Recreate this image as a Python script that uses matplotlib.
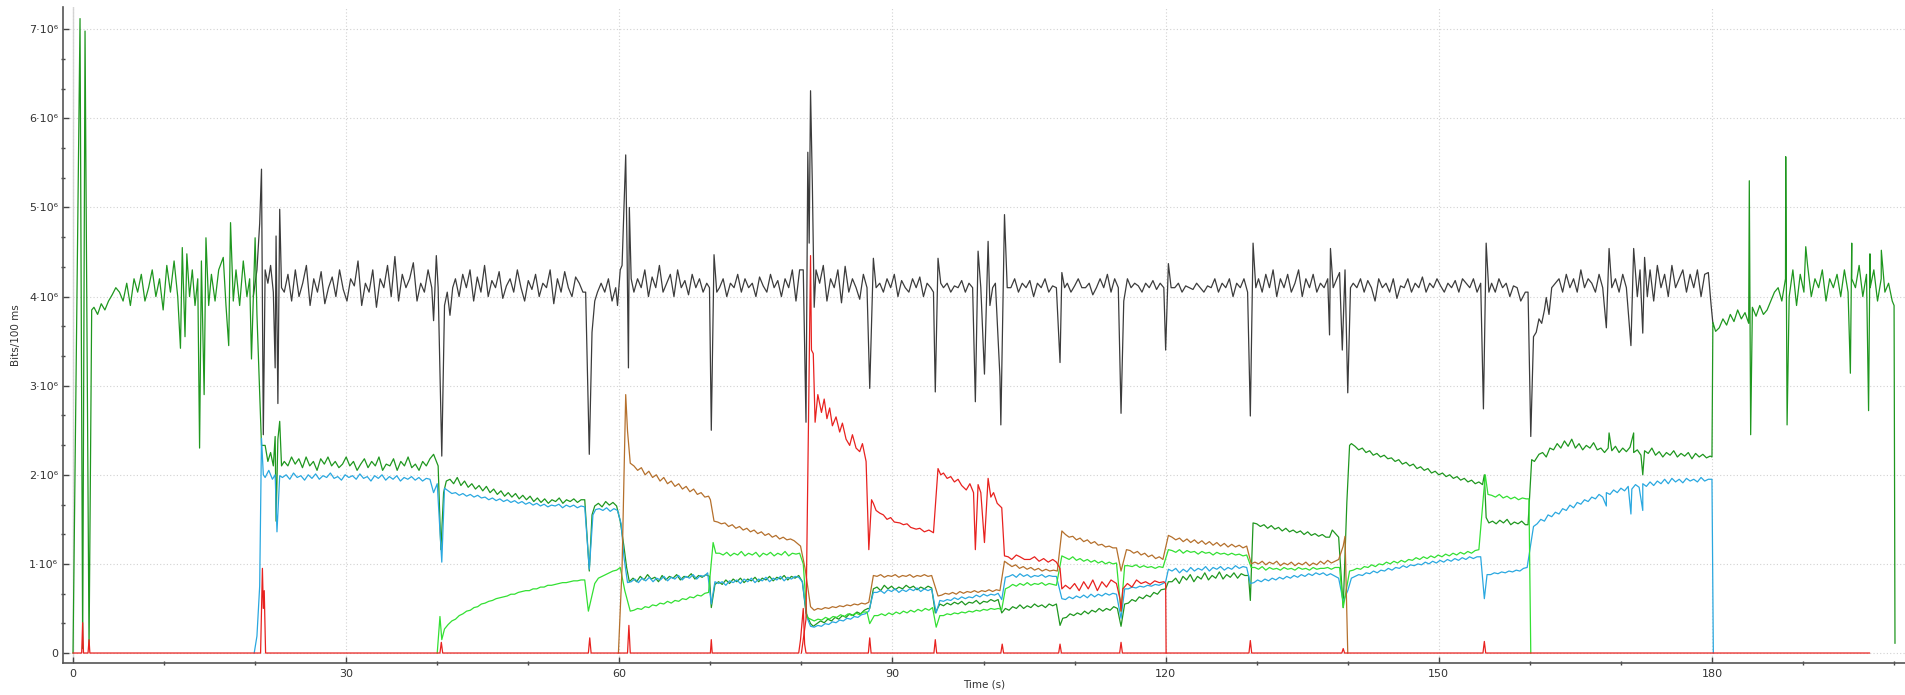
import numpy as np
import matplotlib
matplotlib.use("Agg")
import matplotlib.pyplot as plt
from matplotlib.ticker import MultipleLocator, FuncFormatter

# ---------------- data (values in units of 10^6 bits / 100 ms) ----------------
# Each series: explicit event points (t, v) + noisy stretches (t_start, t_end, [values])

total_events = [
    (19.8, 4.0), (20.2, 4.3), (20.5, 4.82), (20.7, 5.43), (20.9, 2.45), (21.1, 4.3), (21.4, 4.15),
    (21.7, 4.35), (22.0, 4.05), (22.2, 3.2), (22.3, 4.68), (22.5, 2.8), (22.7, 4.98), (22.9, 4.1),
    (39.6, 3.73), (39.9, 4.46), (40.1, 4.1), (40.5, 2.21), (40.8, 3.9), (41.1, 4.05), (41.4, 3.79), (41.7, 4.1),
    (56.3, 4.05), (56.7, 2.23), (57.0, 3.6), (57.3, 3.95), (57.6, 4.05),
    (59.8, 3.9), (60.1, 4.3), (60.3, 4.35), (60.5, 4.96), (60.7, 5.59), (60.85, 4.5), (61.0, 3.2),
    (61.1, 5.0), (61.3, 4.2), (61.6, 4.05),
    (69.9, 4.1), (70.1, 2.5), (70.4, 4.47), (70.7, 4.05),
    (80.2, 4.3), (80.5, 2.59), (80.7, 5.62), (80.85, 4.6), (81.0, 6.31), (81.2, 5.25), (81.4, 3.88), (81.6, 4.3),
    (87.5, 2.97), (87.9, 4.43), (88.2, 4.1),
    (94.5, 4.05), (94.7, 2.93), (95.0, 4.43), (95.3, 4.15),
    (99.1, 2.82), (99.4, 4.51), (99.7, 4.1), (100.1, 3.13), (100.5, 4.62), (100.7, 3.9), (101.0, 4.1),
    (101.3, 4.15), (101.8, 3.1), (101.9, 2.56), (102.3, 4.92), (102.6, 4.1),
    (108.4, 3.26), (108.6, 4.27), (108.9, 4.1),
    (115.1, 2.69), (115.4, 3.95), (115.8, 4.2),
    (120.0, 3.40), (120.3, 4.37), (120.6, 4.1),
    (129.3, 2.66), (129.6, 4.6), (129.9, 4.1),
    (138.0, 3.57), (138.1, 4.54), (138.4, 4.1), (138.8, 4.2), (139.1, 4.27), (139.4, 3.4), (139.7, 4.3),
    (140.0, 2.92), (140.3, 4.1),
    (154.9, 2.74), (155.2, 4.6), (155.5, 4.05),
    (159.0, 3.95), (159.5, 4.05), (159.8, 4.05), (160.1, 2.43), (160.4, 3.55), (160.7, 3.6), (161.0, 3.75),
    (161.3, 3.7), (161.6, 3.85), (161.8, 3.99), (162.1, 3.8), (162.4, 4.1),
    (168.4, 3.65), (168.7, 4.54), (169.0, 4.1),
    (171.1, 3.45), (171.4, 4.54), (171.8, 4.0), (172.1, 4.3), (172.4, 3.59), (172.6, 4.44), (172.9, 4.0),
    (179.9, 3.91), (180.1, 3.7),
]
total_noise = [
    (23.2, 39.4, [4.05, 4.25, 3.95, 4.3, 4.0, 4.15, 4.35, 3.9, 4.2, 4.05, 4.28, 3.92, 4.1, 4.22, 4.0, 4.3, 4.08,
                  3.95, 4.2, 4.12, 4.4, 3.9, 4.15, 4.05, 4.3, 3.88, 4.2, 4.1, 4.35, 4.0, 4.45, 3.95, 4.25, 4.1,
                  4.2, 4.38, 3.95, 4.15, 4.05, 4.3, 4.1]),
    (42.0, 56.0, [4.2, 4.0, 4.25, 4.1, 4.3, 3.95, 4.22, 4.05, 4.35, 4.0, 4.18, 4.1, 4.28, 3.98, 4.12, 4.2, 4.05,
                  4.3, 4.1, 3.95, 4.18, 4.08, 4.25, 4.0, 4.15, 4.1, 4.3, 3.92, 4.2, 4.05, 4.28, 4.1, 4.0, 4.22,
                  4.15, 4.05]),
    (58.0, 59.6, [4.15, 4.05, 4.2, 3.95, 4.1]),
    (62.0, 69.6, [4.2, 4.1, 4.3, 4.0, 4.22, 4.1, 4.35, 4.05, 4.15, 4.25, 4.0, 4.3, 4.1, 4.18, 4.02, 4.25, 4.1,
                  4.2, 4.05, 4.15]),
    (71.0, 79.8, [4.1, 4.2, 4.0, 4.15, 4.1, 4.25, 4.05, 4.2, 4.1, 4.15, 4.0, 4.22, 4.12, 4.05, 4.25, 4.1, 4.18,
                  4.0, 4.2, 4.1, 4.3, 3.95, 4.3]),
    (82.0, 87.2, [4.15, 4.35, 3.95, 4.2, 4.1, 4.3, 3.93, 4.34, 4.05, 4.2, 4.1, 3.97, 4.25, 4.1]),
    (88.6, 94.2, [4.15, 4.05, 4.2, 4.1, 4.25, 4.0, 4.18, 4.1, 4.05, 4.2, 4.1, 4.22, 4.0, 4.15, 4.1]),
    (95.6, 98.8, [4.1, 4.15, 4.05, 4.12, 4.1, 4.18, 4.05, 4.15, 4.1]),
    (103.0, 108.0, [4.1, 4.2, 4.05, 4.15, 4.1, 4.18, 4.0, 4.15, 4.1, 4.2, 4.05, 4.12, 4.1]),
    (109.2, 114.8, [4.15, 4.05, 4.12, 4.2, 4.1, 4.1, 4.15, 4.02, 4.1, 4.2, 4.1, 4.25, 4.05, 4.2, 4.1]),
    (116.2, 119.8, [4.1, 4.15, 4.12, 4.05, 4.15, 4.1, 4.18, 4.08, 4.15, 4.1]),
    (121.0, 129.0, [4.1, 4.15, 4.05, 4.12, 4.1, 4.08, 4.15, 4.1, 4.05, 4.12, 4.1, 4.2, 4.05, 4.15, 4.1, 4.2,
                    4.0, 4.15, 4.1, 4.2, 4.05]),
    (130.2, 137.8, [4.2, 4.05, 4.25, 4.1, 4.3, 4.0, 4.2, 4.1, 4.25, 4.05, 4.15, 4.3, 4.0, 4.2, 4.1, 4.25, 4.05,
                    4.15, 4.1, 4.2]),
    (140.6, 154.6, [4.15, 4.1, 4.2, 4.05, 4.18, 4.1, 3.95, 4.2, 4.1, 4.15, 4.05, 4.2, 3.98, 4.12, 4.1, 4.2, 4.05,
                    4.15, 4.1, 4.22, 4.05, 4.15, 4.1, 4.2, 4.12, 4.05, 4.15, 4.1, 4.18, 4.05, 4.2, 4.15, 4.1,
                    4.2, 4.05, 4.15]),
    (155.8, 158.6, [4.15, 4.05, 4.2, 4.1, 4.15, 4.0, 4.12, 4.1]),
    (162.8, 168.0, [4.15, 4.2, 4.05, 4.25, 4.1, 4.2, 4.05, 4.3, 4.1, 4.2, 4.15, 4.05, 4.25, 4.1]),
    (169.4, 170.6, [4.2, 4.05, 4.25, 4.1]),
    (173.2, 179.6, [4.3, 3.95, 4.35, 4.1, 4.25, 4.0, 4.35, 4.1, 4.2, 4.3, 4.05, 4.25, 4.1, 4.3, 4.0, 4.25, 4.27]),
]

flow1_events = [
    (0.0, 0.0), (0.77, 7.12), (1.06, 0.05), (1.32, 6.98), (1.76, 0.05), (2.05, 3.85),
    (11.8, 3.42), (12.0, 4.55), (12.3, 3.55), (12.5, 4.48), (12.8, 4.0),
    (13.9, 2.3), (14.1, 4.4), (14.4, 2.9), (14.6, 4.66), (14.9, 3.9),
    (16.5, 4.44), (16.8, 3.9), (17.1, 3.45), (17.3, 4.83), (17.6, 3.95),
    (19.4, 4.2), (19.6, 3.3), (20.0, 4.66), (20.2, 3.8), (20.7, 2.33),
    (21.1, 2.33), (21.4, 2.15), (21.7, 2.25), (22.0, 2.1), (22.2, 2.43), (22.3, 1.48), (22.5, 2.4),
    (22.7, 2.6), (22.9, 2.1),
    (40.1, 2.1), (40.4, 1.16), (40.7, 1.8), (41.0, 1.93),
    (56.2, 1.72), (56.7, 0.92), (57.0, 1.55), (57.3, 1.65),
    (60.1, 1.48), (60.5, 1.2), (60.8, 0.96), (61.1, 0.8),
    (70.1, 0.51), (70.5, 0.77),
    (80.1, 0.8), (80.5, 0.45), (81.0, 0.33), (81.3, 0.3),
    (87.5, 0.5), (87.9, 0.72),
    (94.7, 0.45), (95.2, 0.55),
    (102.0, 0.45), (102.4, 0.5),
    (108.4, 0.31), (108.7, 0.39),
    (115.1, 0.3), (115.5, 0.55),
    (120.0, 0.72), (120.3, 0.8),
    (129.1, 0.87), (129.3, 0.59), (129.6, 1.46),
    (138.0, 1.3), (138.3, 1.38), (139.0, 1.3), (139.5, 0.51), (139.9, 1.69), (140.2, 2.33), (140.4, 2.35),
    (154.8, 1.89), (155.0, 2.0), (155.2, 1.52), (155.5, 1.46),
    (159.8, 1.44), (160.2, 2.17), (160.5, 2.15), (161.0, 2.23),
    (168.7, 2.47), (171.4, 2.47), (172.4, 2.0),
    (180.0, 2.2), (180.1, 3.71), (180.4, 3.61),
    (184.1, 5.3), (184.25, 2.45), (188.1, 5.57), (188.25, 2.56), (190.3, 4.56),
    (195.2, 3.14), (195.35, 4.6), (197.2, 2.72), (197.35, 4.48), (198.6, 4.52),
    (200.0, 3.9), (200.1, 0.11),
]
flow1_noise = [
    (2.3, 11.5, [3.88, 3.8, 3.92, 3.85, 3.95, 4.02, 4.1, 4.05, 3.95, 4.15, 3.9, 4.2, 4.05, 4.25, 3.95, 4.1,
                 4.3, 4.0, 4.2, 3.85, 4.35, 4.05, 4.4, 4.0]),
    (13.1, 13.7, [4.3, 3.9, 4.2]),
    (15.2, 16.0, [4.25, 3.95, 4.3]),
    (17.9, 19.1, [4.3, 3.9, 4.4, 4.0]),
    (23.2, 39.6, [2.15, 2.1, 2.2, 2.12, 2.18, 2.08, 2.2, 2.1, 2.15, 2.05, 2.18, 2.12, 2.2, 2.1, 2.15, 2.08,
                  2.12, 2.2, 2.1, 2.15, 2.05, 2.12, 2.18, 2.08, 2.15, 2.1, 2.2, 2.05, 2.12, 2.1, 2.18, 2.05,
                  2.15, 2.1, 2.2, 2.08, 2.12, 2.05, 2.15, 2.1, 2.18, 2.23]),
    (41.4, 55.8, [1.95, 1.9, 1.97, 1.88, 1.93, 1.86, 1.9, 1.84, 1.88, 1.82, 1.87, 1.8, 1.84, 1.78, 1.82, 1.76,
                  1.8, 1.75, 1.79, 1.73, 1.77, 1.72, 1.76, 1.7, 1.74, 1.69, 1.73, 1.68, 1.72, 1.7, 1.74, 1.68,
                  1.72, 1.7, 1.73, 1.69, 1.72]),
    (57.7, 59.7, [1.68, 1.64, 1.7, 1.66, 1.69, 1.65]),
    (61.5, 69.9, [0.84, 0.8, 0.86, 0.82, 0.88, 0.83, 0.85, 0.8, 0.87, 0.82, 0.86, 0.84, 0.88, 0.82, 0.86,
                  0.85, 0.89, 0.83, 0.87, 0.85, 0.88, 0.86]),
    (70.9, 79.7, [0.8, 0.77, 0.82, 0.78, 0.83, 0.8, 0.84, 0.79, 0.83, 0.81, 0.85, 0.8, 0.84, 0.82, 0.86, 0.81,
                  0.85, 0.83, 0.87, 0.82, 0.86, 0.84, 0.87]),
    (81.7, 87.3, [0.33, 0.36, 0.34, 0.38, 0.36, 0.4, 0.38, 0.42, 0.4, 0.44, 0.42, 0.46, 0.44, 0.48, 0.5]),
    (88.3, 94.3, [0.74, 0.7, 0.76, 0.72, 0.75, 0.71, 0.74, 0.72, 0.76, 0.73, 0.75, 0.71, 0.74, 0.72, 0.75, 0.73]),
    (95.6, 101.6, [0.53, 0.56, 0.54, 0.57, 0.55, 0.58, 0.54, 0.57, 0.56, 0.59, 0.55, 0.58, 0.57, 0.6, 0.58, 0.6]),
    (102.8, 108.0, [0.48, 0.52, 0.5, 0.54, 0.5, 0.53, 0.51, 0.55, 0.52, 0.54, 0.51, 0.55, 0.53, 0.55]),
    (109.1, 114.7, [0.4, 0.44, 0.42, 0.45, 0.43, 0.47, 0.44, 0.48, 0.46, 0.5, 0.47, 0.5, 0.48, 0.52, 0.5]),
    (115.9, 119.5, [0.56, 0.6, 0.58, 0.63, 0.61, 0.65, 0.63, 0.68, 0.66, 0.71]),
    (120.7, 128.7, [0.8, 0.84, 0.78, 0.86, 0.82, 0.88, 0.8, 0.86, 0.83, 0.9, 0.82, 0.87, 0.84, 0.91, 0.83,
                    0.88, 0.85, 0.9, 0.84, 0.89, 0.87]),
    (130.0, 137.6, [1.45, 1.42, 1.44, 1.4, 1.43, 1.39, 1.41, 1.37, 1.4, 1.36, 1.38, 1.35, 1.37, 1.33, 1.36,
                    1.32, 1.34, 1.31, 1.33, 1.3]),
    (140.8, 154.4, [2.32, 2.28, 2.3, 2.25, 2.27, 2.22, 2.24, 2.2, 2.22, 2.18, 2.19, 2.15, 2.17, 2.12, 2.14, 2.1,
                    2.12, 2.07, 2.09, 2.05, 2.07, 2.02, 2.04, 2.0, 2.02, 1.98, 2.0, 1.96, 1.98, 1.94, 1.96, 1.92,
                    1.94, 1.9, 1.92]),
    (155.9, 159.5, [1.48, 1.45, 1.49, 1.46, 1.5, 1.44, 1.47, 1.45, 1.48, 1.44]),
    (161.4, 179.8, [2.25, 2.2, 2.3, 2.28, 2.35, 2.3, 2.38, 2.32, 2.4, 2.3, 2.35, 2.28, 2.33, 2.3, 2.36, 2.28,
                    2.3, 2.25, 2.3, 2.27, 2.32, 2.25, 2.3, 2.26, 2.31, 2.25, 2.28, 2.22, 2.27, 2.24, 2.3, 2.22,
                    2.26, 2.2, 2.25, 2.22, 2.27, 2.2, 2.24, 2.21, 2.25, 2.18, 2.24, 2.2, 2.23, 2.19, 2.21]),
    (180.8, 199.8, [3.65, 3.75, 3.68, 3.8, 3.72, 3.85, 3.75, 3.82, 3.7, 3.88, 3.78, 3.9, 3.8, 3.85, 3.95, 4.05,
                    4.1, 3.95, 4.2, 4.0, 4.3, 3.9, 4.25, 4.05, 4.35, 4.0, 4.2, 4.1, 4.3, 3.95, 4.2, 4.1, 4.25,
                    4.0, 4.3, 4.05, 4.2, 4.1, 4.35, 4.0, 4.25, 4.1, 4.3, 3.95, 4.2, 4.05, 4.15, 3.95]),
]

flow2_events = [
    (19.9, 0.0), (20.2, 0.19), (20.5, 0.75), (20.7, 2.41), (20.9, 2.0), (21.1, 1.97), (21.5, 2.05),
    (21.9, 1.95), (22.2, 2.0), (22.4, 1.36), (22.7, 1.99),
    (39.6, 1.8), (40.0, 1.9), (40.5, 1.02), (40.8, 1.85),
    (56.7, 0.94), (57.1, 1.55), (57.4, 1.61),
    (60.2, 1.45), (60.5, 1.08), (60.9, 0.79),
    (70.1, 0.55), (70.5, 0.8),
    (80.1, 0.8), (80.6, 0.4), (81.0, 0.3),
    (87.9, 0.68),
    (94.8, 0.45), (95.2, 0.59),
    (102.0, 0.6), (102.4, 0.85),
    (108.6, 0.61),
    (115.1, 0.39), (115.5, 0.72),
    (120.0, 0.8), (120.3, 0.94),
    (129.3, 0.78),
    (139.0, 0.84), (139.5, 0.58), (140.0, 0.7), (140.4, 0.84),
    (155.0, 0.61), (155.3, 0.88),
    (160.4, 1.42),
    (168.4, 1.65), (171.1, 1.56), (172.4, 1.6),
    (180.0, 1.95), (180.15, 0.0),
]
flow2_noise = [
    (23.0, 39.2, [1.97, 2.0, 1.95, 2.02, 1.97, 1.99, 1.94, 2.0, 1.96, 2.01, 1.95, 1.99, 1.97, 2.02, 1.96, 1.98,
                  1.94, 2.0, 1.97, 1.99, 1.95, 2.01, 1.96, 1.98, 1.93, 1.99, 1.96, 2.0, 1.94, 1.98, 1.95, 1.99,
                  1.93, 1.97, 1.95, 1.98, 1.94, 1.97, 1.93, 1.96, 1.95]),
    (41.2, 56.2, [1.82, 1.79, 1.8, 1.77, 1.79, 1.76, 1.78, 1.75, 1.77, 1.74, 1.75, 1.72, 1.74, 1.71, 1.73, 1.7,
                  1.72, 1.69, 1.71, 1.68, 1.7, 1.67, 1.69, 1.66, 1.68, 1.65, 1.67, 1.64, 1.66, 1.65, 1.67, 1.63,
                  1.66, 1.64, 1.66, 1.63, 1.65, 1.64]),
    (57.8, 59.8, [1.62, 1.6, 1.63, 1.59, 1.62, 1.6]),
    (61.3, 69.7, [0.8, 0.83, 0.79, 0.84, 0.81, 0.85, 0.8, 0.84, 0.82, 0.86, 0.81, 0.85, 0.83, 0.87, 0.82, 0.86,
                  0.84, 0.88, 0.83, 0.87, 0.86, 0.9]),
    (70.9, 79.7, [0.78, 0.8, 0.76, 0.81, 0.79, 0.82, 0.78, 0.83, 0.8, 0.84, 0.79, 0.83, 0.81, 0.85, 0.8, 0.84,
                  0.82, 0.86, 0.81, 0.85, 0.83, 0.86, 0.85]),
    (81.4, 87.4, [0.29, 0.31, 0.3, 0.33, 0.32, 0.35, 0.34, 0.37, 0.36, 0.39, 0.38, 0.41, 0.4, 0.43, 0.44, 0.47]),
    (88.3, 94.3, [0.68, 0.7, 0.67, 0.71, 0.69, 0.72, 0.68, 0.71, 0.69, 0.72, 0.7, 0.73, 0.69, 0.72, 0.7, 0.72]),
    (95.6, 101.6, [0.58, 0.6, 0.59, 0.62, 0.6, 0.63, 0.61, 0.63, 0.62, 0.65, 0.63, 0.66, 0.64, 0.66, 0.65, 0.67]),
    (102.8, 108.0, [0.86, 0.88, 0.85, 0.89, 0.86, 0.88, 0.85, 0.87, 0.86, 0.88, 0.85, 0.87, 0.86, 0.86]),
    (109.0, 114.6, [0.6, 0.63, 0.61, 0.64, 0.62, 0.65, 0.62, 0.66, 0.63, 0.66, 0.64, 0.67, 0.65, 0.67, 0.66]),
    (115.9, 119.7, [0.72, 0.74, 0.73, 0.75, 0.74, 0.76, 0.75, 0.77, 0.76, 0.78]),
    (120.7, 128.9, [0.92, 0.95, 0.9, 0.94, 0.91, 0.96, 0.92, 0.95, 0.93, 0.97, 0.92, 0.96, 0.94, 0.97, 0.93,
                    0.96, 0.94, 0.98, 0.95, 0.97, 0.96]),
    (129.7, 138.1, [0.79, 0.82, 0.8, 0.83, 0.81, 0.84, 0.82, 0.85, 0.83, 0.86, 0.84, 0.87, 0.85, 0.88, 0.86,
                    0.89, 0.87, 0.9, 0.88, 0.9, 0.87, 0.89]),
    (140.8, 154.6, [0.86, 0.88, 0.87, 0.9, 0.89, 0.92, 0.9, 0.93, 0.92, 0.95, 0.93, 0.96, 0.95, 0.98, 0.96, 0.99,
                    0.98, 1.0, 0.99, 1.02, 1.0, 1.03, 1.01, 1.04, 1.02, 1.05, 1.03, 1.06, 1.04, 1.07, 1.05, 1.08,
                    1.06, 1.08, 1.08]),
    (155.7, 159.7, [0.88, 0.9, 0.89, 0.91, 0.9, 0.92, 0.91, 0.93, 0.92, 0.95, 0.96]),
    (160.8, 179.6, [1.45, 1.5, 1.48, 1.55, 1.53, 1.58, 1.56, 1.62, 1.6, 1.66, 1.63, 1.69, 1.67, 1.72, 1.7, 1.75,
                    1.73, 1.78, 1.75, 1.8, 1.78, 1.83, 1.8, 1.85, 1.82, 1.87, 1.84, 1.89, 1.86, 1.9, 1.87, 1.92,
                    1.88, 1.93, 1.9, 1.95, 1.9, 1.96, 1.92, 1.95, 1.91, 1.96, 1.93, 1.95, 1.92, 1.97, 1.93, 1.95]),
]

flow3_events = [
    (40.0, 0.0), (40.3, 0.41), (40.5, 0.15), (40.8, 0.27),
    (56.6, 0.47), (57.3, 0.78),
    (60.1, 0.96), (60.6, 0.7), (61.2, 0.47),
    (70.3, 1.24), (70.6, 1.12),
    (80.2, 1.0), (80.6, 0.4), (81.0, 0.38),
    (87.5, 0.33), (88.0, 0.42),
    (94.8, 0.29), (95.2, 0.42),
    (102.0, 0.49), (102.4, 0.72),
    (108.6, 1.09),
    (115.1, 0.47), (115.5, 0.98),
    (120.3, 1.16),
    (129.4, 0.96),
    (139.1, 0.96), (139.5, 0.51), (140.2, 0.92),
    (155.1, 2.0), (155.4, 1.78),
    (159.9, 1.73), (160.1, 0.0),
]
flow3_noise = [
    (41.2, 56.2, [0.32, 0.36, 0.38, 0.42, 0.44, 0.47, 0.48, 0.51, 0.52, 0.55, 0.56, 0.58, 0.59, 0.61, 0.62,
                  0.63, 0.64, 0.66, 0.66, 0.68, 0.69, 0.7, 0.7, 0.72, 0.72, 0.74, 0.74, 0.76, 0.76, 0.77, 0.78,
                  0.79, 0.79, 0.8, 0.81, 0.81, 0.82, 0.82]),
    (57.7, 59.7, [0.84, 0.86, 0.88, 0.9, 0.92, 0.93]),
    (61.6, 69.8, [0.48, 0.5, 0.49, 0.52, 0.51, 0.54, 0.53, 0.56, 0.55, 0.58, 0.56, 0.59, 0.58, 0.61, 0.6, 0.63,
                  0.62, 0.65, 0.64, 0.67, 0.68]),
    (71.0, 79.8, [1.12, 1.1, 1.13, 1.09, 1.12, 1.1, 1.14, 1.09, 1.12, 1.1, 1.13, 1.08, 1.12, 1.1, 1.13, 1.09,
                  1.12, 1.1, 1.14, 1.09, 1.12, 1.11, 1.12]),
    (81.4, 87.2, [0.36, 0.38, 0.37, 0.4, 0.38, 0.41, 0.4, 0.43, 0.41, 0.44, 0.42, 0.45, 0.43, 0.46, 0.46]),
    (88.4, 94.4, [0.42, 0.44, 0.42, 0.45, 0.43, 0.46, 0.44, 0.47, 0.45, 0.48, 0.46, 0.49, 0.47, 0.5, 0.48, 0.51]),
    (95.6, 101.6, [0.42, 0.44, 0.43, 0.45, 0.44, 0.46, 0.45, 0.47, 0.46, 0.48, 0.47, 0.49, 0.48, 0.5, 0.49, 0.5]),
    (102.8, 108.0, [0.74, 0.77, 0.75, 0.78, 0.76, 0.79, 0.76, 0.78, 0.77, 0.79, 0.76, 0.78, 0.77, 0.76]),
    (109.0, 114.6, [1.07, 1.05, 1.08, 1.04, 1.06, 1.03, 1.05, 1.02, 1.04, 1.01, 1.03, 1.0, 1.02, 1.0, 1.01]),
    (115.9, 119.7, [0.98, 0.97, 0.99, 0.96, 0.98, 0.96, 0.97, 0.95, 0.97, 0.96]),
    (120.7, 128.9, [1.15, 1.13, 1.16, 1.12, 1.15, 1.13, 1.14, 1.11, 1.14, 1.12, 1.13, 1.1, 1.13, 1.11, 1.12,
                    1.1, 1.12, 1.1, 1.11, 1.09, 1.1]),
    (129.8, 138.6, [0.96, 0.94, 0.97, 0.93, 0.96, 0.94, 0.95, 0.93, 0.96, 0.94, 0.95, 0.93, 0.96, 0.94, 0.95,
                    0.93, 0.96, 0.94, 0.95, 0.95, 0.96, 0.94, 0.96]),
    (140.6, 154.4, [0.93, 0.95, 0.94, 0.97, 0.96, 0.99, 0.97, 1.0, 0.99, 1.02, 1.0, 1.03, 1.01, 1.04, 1.02, 1.05,
                    1.04, 1.07, 1.05, 1.08, 1.06, 1.09, 1.07, 1.1, 1.08, 1.11, 1.09, 1.12, 1.1, 1.13, 1.11, 1.14,
                    1.12, 1.15, 1.16]),
    (155.8, 159.6, [1.77, 1.75, 1.78, 1.74, 1.76, 1.73, 1.75, 1.72, 1.74, 1.73]),
]

flow4_events = [
    (59.9, 0.0), (60.3, 0.96), (60.7, 2.9), (60.9, 2.49), (61.2, 2.13),
    (70.0, 1.72), (70.4, 1.48),
    (79.2, 1.26), (79.9, 1.2), (80.4, 0.95), (81.0, 0.52),
    (87.9, 0.87),
    (95.0, 0.64),
    (102.3, 1.03),
    (108.6, 1.37),
    (115.1, 0.92), (115.7, 1.16),
    (120.3, 1.32),
    (129.4, 1.0),
    (139.0, 1.05), (139.5, 1.2), (139.7, 1.31), (140.0, 0.0),
]
flow4_noise = [
    (61.6, 69.8, [2.1, 2.05, 2.08, 2.0, 2.04, 1.97, 2.0, 1.93, 1.97, 1.9, 1.93, 1.87, 1.9, 1.84, 1.87, 1.81,
                  1.84, 1.78, 1.8, 1.75, 1.76]),
    (70.8, 78.8, [1.47, 1.45, 1.46, 1.42, 1.44, 1.4, 1.42, 1.38, 1.4, 1.36, 1.38, 1.34, 1.36, 1.32, 1.34, 1.3,
                  1.32, 1.28, 1.3, 1.27, 1.28]),
    (81.4, 87.4, [0.48, 0.5, 0.49, 0.51, 0.5, 0.52, 0.51, 0.53, 0.52, 0.54, 0.53, 0.55, 0.54, 0.56, 0.55, 0.57]),
    (88.3, 94.3, [0.86, 0.88, 0.85, 0.87, 0.86, 0.88, 0.85, 0.87, 0.86, 0.88, 0.85, 0.87, 0.86, 0.88, 0.86, 0.87]),
    (95.4, 101.8, [0.65, 0.67, 0.66, 0.68, 0.66, 0.69, 0.67, 0.69, 0.68, 0.7, 0.68, 0.7, 0.69, 0.71, 0.69, 0.71,
                   0.7]),
    (102.7, 108.1, [1.0, 0.97, 0.99, 0.95, 0.97, 0.94, 0.96, 0.93, 0.95, 0.92, 0.94, 0.92, 0.93, 0.92]),
    (109.0, 114.6, [1.33, 1.3, 1.31, 1.27, 1.29, 1.25, 1.27, 1.23, 1.25, 1.21, 1.22, 1.19, 1.2, 1.18, 1.18]),
    (116.1, 119.7, [1.15, 1.12, 1.14, 1.1, 1.12, 1.08, 1.1, 1.06, 1.08, 1.05]),
    (120.7, 128.9, [1.3, 1.27, 1.29, 1.25, 1.28, 1.24, 1.27, 1.23, 1.26, 1.22, 1.25, 1.21, 1.24, 1.2, 1.23,
                    1.19, 1.22, 1.19, 1.21, 1.18, 1.2]),
    (129.8, 138.6, [1.02, 1.0, 1.03, 0.99, 1.02, 1.0, 1.03, 0.98, 1.01, 0.99, 1.02, 0.98, 1.01, 0.99, 1.02,
                    0.98, 1.01, 0.99, 1.03, 1.0, 1.04, 1.01, 1.03]),
]

flow5_events = [
    (80.0, 0.0), (80.5, 0.38), (80.8, 2.8), (81.0, 4.46), (81.1, 3.4), (81.3, 3.36), (81.5, 2.59),
    (81.8, 2.9), (82.2, 2.7), (82.5, 2.85), (82.8, 2.63), (83.1, 2.75), (83.4, 2.55), (83.8, 2.65),
    (84.2, 2.48), (84.5, 2.58), (84.9, 2.4), (85.3, 2.33), (85.6, 2.45), (86.0, 2.3), (86.4, 2.26),
    (86.7, 2.35), (87.1, 2.15), (87.4, 1.16), (87.7, 1.72), (87.9, 1.68), (88.2, 1.6), (88.6, 1.57),
    (89.0, 1.55), (89.4, 1.5), (89.8, 1.52), (90.2, 1.47), (90.8, 1.46), (91.2, 1.44), (91.6, 1.45),
    (92.0, 1.41), (92.6, 1.39), (93.0, 1.4), (93.5, 1.36), (94.0, 1.38), (94.5, 1.35), (95.0, 2.07),
    (95.3, 2.0), (95.6, 2.02), (96.0, 1.96), (96.4, 1.98), (96.8, 1.92), (97.2, 1.95), (97.6, 1.88),
    (98.1, 1.83), (98.5, 1.9), (98.9, 1.8), (99.1, 1.16), (99.4, 1.89), (99.7, 1.8), (100.1, 1.24),
    (100.5, 1.96), (100.8, 1.75), (101.1, 1.8), (101.5, 1.68), (102.0, 1.63), (102.3, 1.09),
    (102.7, 1.08), (103.1, 1.05), (103.6, 1.1), (104.0, 1.08), (104.5, 1.05), (105.1, 1.05),
    (105.6, 1.08), (106.1, 1.03), (106.6, 1.06), (107.1, 1.02), (107.6, 1.05), (108.0, 1.02),
    (108.4, 0.95), (108.6, 0.72), (109.0, 0.76), (109.5, 0.72), (110.0, 0.78), (110.5, 0.7),
    (111.0, 0.8), (111.5, 0.72), (112.0, 0.82), (112.5, 0.7), (113.0, 0.8), (113.5, 0.74),
    (114.0, 0.82), (114.6, 0.78), (115.0, 0.6), (115.1, 0.47), (115.3, 0.72), (115.8, 0.78),
    (116.3, 0.74), (116.8, 0.82), (117.3, 0.78), (117.8, 0.8), (118.3, 0.77), (118.8, 0.81),
    (119.3, 0.79), (119.8, 0.8), (120.0, 0.78), (120.05, 0.0),
]
flow5_noise = []

errors_events = [
    (0.0, 0.0), (0.95, 0.0), (1.06, 0.34), (1.15, 0.0), (1.65, 0.0), (1.76, 0.15), (1.85, 0.0),
    (20.6, 0.0), (20.8, 0.95), (20.9, 0.5), (21.0, 0.7), (21.15, 0.0),
    (40.3, 0.0), (40.45, 0.12), (40.6, 0.0), (56.6, 0.0), (56.75, 0.17), (56.9, 0.0),
    (60.9, 0.0), (61.05, 0.31), (61.2, 0.0), (70.0, 0.0), (70.1, 0.15), (70.2, 0.0),
    (79.7, 0.0), (79.9, 0.15), (80.2, 0.5), (80.35, 0.1), (80.5, 0.0),
    (87.35, 0.0), (87.5, 0.17), (87.65, 0.0), (94.55, 0.0), (94.7, 0.15), (94.85, 0.0),
    (101.9, 0.0), (102.05, 0.1), (102.2, 0.0), (108.25, 0.0), (108.4, 0.1), (108.55, 0.0),
    (114.95, 0.0), (115.1, 0.12), (115.25, 0.0), (129.15, 0.0), (129.3, 0.14), (129.45, 0.0),
    (139.35, 0.0), (139.5, 0.05), (139.65, 0.0), (154.85, 0.0), (155.0, 0.13), (155.15, 0.0),
    (197.3, 0.0),
]
errors_noise = []

y_tick_values = [0, 1, 2, 3, 4, 5, 6, 7]
x_tick_values = [0, 30, 60, 90, 120, 150, 180]
x_label = "Time (s)"
y_label = "Bits/100 ms"


def build(events, noise):
    ts = [t for t, _ in events]
    vs = [v for _, v in events]
    for t0, t1, vals in noise:
        ts.extend(np.linspace(t0, t1, len(vals)))
        vs.extend(vals)
    order = np.argsort(np.asarray(ts), kind="stable")
    return np.asarray(ts)[order], np.asarray(vs)[order]


series = [
    (total_events, total_noise, "#3c3c3c"),
    (flow1_events, flow1_noise, "#1f971f"),
    (flow2_events, flow2_noise, "#2aa8e0"),
    (flow3_events, flow3_noise, "#33e033"),
    (flow4_events, flow4_noise, "#b5702c"),
    (flow5_events, flow5_noise, "#e8221f"),
    (errors_events, errors_noise, "#e8221f"),
]

fig = plt.figure(figsize=(19.05, 6.95), dpi=100)
ax = fig.add_axes([63 / 1905, 1 - 663 / 695, 1 - 63 / 1905, (663 - 7) / 695])
ax.set_facecolor("white")

for ev, nz, col in series:
    t, v = build(ev, nz)
    ax.plot(t, v, color=col, lw=0.9, zorder=3)

ax.set_xlim(-1.1, 201.2)
ax.set_ylim(-0.112, 7.25)

ax.set_xticks(x_tick_values)
ax.xaxis.set_minor_locator(MultipleLocator(10))
ax.set_yticks(y_tick_values)
ax.yaxis.set_minor_locator(MultipleLocator(1 / 3))

sup = str.maketrans("0123456789", "⁰¹²³⁴⁵⁶⁷⁸⁹")
ax.yaxis.set_major_formatter(FuncFormatter(lambda v, p: "0" if v == 0 else f"{int(round(v))}·10" + "6".translate(sup)))

ax.grid(True, which="major", color="#d2d2d2", linestyle=(0, (1, 2)), linewidth=0.8, zorder=0)
ax.axvline(0, color="#d6d6d6", lw=1.0, zorder=1)

for s in ["top", "right"]:
    ax.spines[s].set_visible(False)
for s in ["left", "bottom"]:
    ax.spines[s].set_color("#555555")
    ax.spines[s].set_linewidth(1.2)

ax.tick_params(axis="both", which="major", direction="in", length=4, width=1, color="#444444",
               labelsize=8, labelcolor="#333333")
ax.tick_params(axis="both", which="minor", direction="inout", length=3, width=1, color="#444444")
ax.tick_params(axis="x", which="major", pad=4)

ax.set_xlabel(x_label, fontsize=7.5, color="#333333", labelpad=1)
ax.set_ylabel(y_label, fontsize=7.5, color="#333333", labelpad=6)

fig.savefig("out.png", dpi=100, facecolor="white")
